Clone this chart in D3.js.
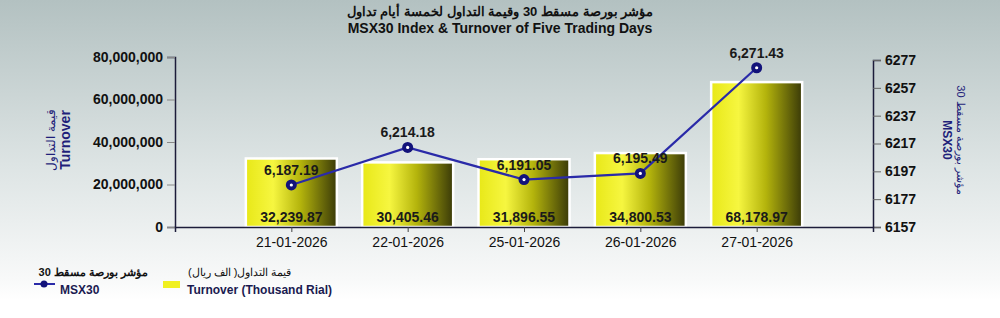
<!DOCTYPE html>
<html>
<head>
<meta charset="utf-8">
<script src="https://cdn.jsdelivr.net/npm/d3@7"></script>
<style>
  body { margin: 0; padding: 0; }
  svg { display: block; }
</style>
</head>
<body>
<div id="chart"></div>
<script>
// chart data
const dates = ["21-01-2026", "22-01-2026", "25-01-2026", "26-01-2026", "27-01-2026"];
const turnover = [32239.87, 30405.46, 31896.55, 34800.53, 68178.97]; // thousand rial
const msx30 = [6187.19, 6214.18, 6191.05, 6195.49, 6271.43];
const leftTicks = [0, 20000000, 40000000, 60000000, 80000000];
const rightTicks = [6157, 6177, 6197, 6217, 6237, 6257, 6277];

const width = 1000, height = 318;
const margin = { top: 57, right: 127, bottom: 91, left: 175 };
const graphW = width - margin.left - margin.right;
const graphH = height - margin.top - margin.bottom;
const font = "'Liberation Sans', Arial, sans-serif";
const navy = "#1f1f7a";

const svg = d3.select("#chart").append("svg")
    .attr("width", width)
    .attr("height", height);

const defs = svg.append("defs");
const bg = defs.append("linearGradient").attr("id", "bg")
    .attr("x1", 0).attr("y1", 0).attr("x2", 0).attr("y2", 1);
bg.append("stop").attr("offset", "0%").attr("stop-color", "#b3c1c1");
bg.append("stop").attr("offset", "55%").attr("stop-color", "#dde4e4");
bg.append("stop").attr("offset", "93%").attr("stop-color", "#f8f9f9");
bg.append("stop").attr("offset", "100%").attr("stop-color", "#ffffff");

const barGrad = defs.append("linearGradient").attr("id", "bar")
    .attr("x1", 0).attr("y1", 0).attr("x2", 1).attr("y2", 0);
barGrad.append("stop").attr("offset", "0%").attr("stop-color", "#e8e818");
barGrad.append("stop").attr("offset", "30%").attr("stop-color", "#f6f640");
barGrad.append("stop").attr("offset", "60%").attr("stop-color", "#b4b40c");
barGrad.append("stop").attr("offset", "100%").attr("stop-color", "#3a3a08");

svg.append("rect").attr("width", width).attr("height", 300).attr("fill", "url(#bg)");

// title
svg.append("text")
    .attr("x", 500).attr("y", 16)
    .attr("text-anchor", "middle")
    .style("font-family", font).style("font-weight", 700).style("font-size", "13px")
    .attr("fill", "#111")
    .text("مؤشر بورصة مسقط 30 وقيمة التداول لخمسة أيام تداول");
svg.append("text")
    .attr("x", 500).attr("y", 33)
    .attr("text-anchor", "middle")
    .style("font-family", font).style("font-weight", 700).style("font-size", "14px")
    .attr("fill", "#111")
    .text("MSX30 Index & Turnover of Five Trading Days");

const group = svg.append("g")
    .attr("transform", `translate(${margin.left}, ${margin.top})`);

// scales
const x = d3.scalePoint().domain(dates).range([0, graphW]).padding(1);
const y = d3.scaleLinear().domain([0, 80000000]).range([graphH, 0]);
const y2 = d3.scaleLinear().domain([6157, 6277]).range([graphH, 3]);
const barWidth = 91;

// bars
const bars = group.append("g").selectAll("g.bar")
    .data(dates.map((d, i) => ({ date: d, value: turnover[i] })))
    .enter().append("g").attr("class", "bar");

bars.append("rect")
    .attr("x", d => x(d.date) - barWidth / 2)
    .attr("y", d => y(d.value * 1000))
    .attr("width", barWidth)
    .attr("height", d => graphH - y(d.value * 1000))
    .attr("fill", "url(#bar)")
    .attr("stroke", "#ffffff")
    .attr("stroke-width", 2.5);

bars.append("text")
    .attr("x", d => x(d.date))
    .attr("y", graphH - 5)
    .attr("text-anchor", "middle")
    .style("font-family", font).style("font-weight", 700).style("font-size", "14px")
    .attr("fill", "#1a1a1a")
    .text(d => d3.format(",.2f")(d.value));

// left axis
const leftAxis = group.append("g")
    .style("font-family", font).style("font-weight", 700).style("font-size", "14px")
    .call(d3.axisLeft(y).tickValues(leftTicks).tickFormat(d3.format(",")).tickSize(8).tickPadding(4));
leftAxis.select(".domain").attr("stroke", "#1c1c3a").attr("stroke-width", 1.5);
leftAxis.selectAll(".tick line").attr("stroke", "#888");
leftAxis.selectAll(".tick text").attr("fill", "#111");

// right axis
const rightAxis = group.append("g")
    .attr("transform", `translate(${graphW}, 0)`)
    .style("font-family", font).style("font-weight", 700).style("font-size", "14px")
    .call(d3.axisRight(y2).tickValues(rightTicks).tickFormat(d3.format("d")).tickSize(8).tickPadding(4));
rightAxis.select(".domain").attr("stroke", "#1c1c3a").attr("stroke-width", 1.5);
rightAxis.selectAll(".tick line").attr("stroke", "#666");
rightAxis.selectAll(".tick text").attr("fill", "#111");

// bottom axis
const xAxis = group.append("g")
    .attr("transform", `translate(0, ${graphH})`)
    .style("font-family", font).style("font-size", "14px")
    .call(d3.axisBottom(x).tickSize(5).tickPadding(5));
xAxis.select(".domain").attr("stroke", "#1c1c3a").attr("stroke-width", 1.5);
xAxis.selectAll(".tick line").attr("stroke", "#444");
xAxis.selectAll(".tick text").attr("fill", "#111");

// index line
const pts = dates.map((d, i) => ({ date: d, value: msx30[i] }));
group.append("path")
    .datum(pts)
    .attr("fill", "none")
    .attr("stroke", "#2a2aa8")
    .attr("stroke-width", 2.2)
    .attr("d", d3.line().x(d => x(d.date)).y(d => y2(d.value)));

group.append("g").selectAll("circle.pt")
    .data(pts).enter().append("circle")
    .attr("cx", d => x(d.date)).attr("cy", d => y2(d.value))
    .attr("r", 5.5).attr("fill", "#12127a");
group.append("g").selectAll("circle.dot")
    .data(pts).enter().append("circle")
    .attr("cx", d => x(d.date)).attr("cy", d => y2(d.value))
    .attr("r", 1.6).attr("fill", "#ffffff");

group.append("g").selectAll("text")
    .data(pts).enter().append("text")
    .attr("x", d => x(d.date))
    .attr("y", d => y2(d.value) - 10)
    .attr("text-anchor", "middle")
    .style("font-family", font).style("font-weight", 700).style("font-size", "14px")
    .attr("fill", "#1a1a1a")
    .text(d => d3.format(",.2f")(d.value));

// axis titles
const lt = svg.append("g").attr("transform", "translate(0, 140) rotate(-90)");
lt.append("text").attr("x", 0).attr("y", 55)
    .attr("text-anchor", "middle")
    .style("font-family", font).style("font-size", "12px").attr("fill", navy)
    .text("قيمة التداول");
lt.append("text").attr("x", 0).attr("y", 70)
    .attr("text-anchor", "middle")
    .style("font-family", font).style("font-weight", 700).style("font-size", "14px").attr("fill", navy)
    .text("Turnover");

const rt = svg.append("g").attr("transform", "translate(0, 140) rotate(90)");
rt.append("text").attr("x", 0).attr("y", -957)
    .attr("text-anchor", "middle")
    .style("font-family", font).style("font-size", "11px").attr("fill", navy)
    .text("مؤشر بورصة مسقط 30");
rt.append("text").attr("x", 0).attr("y", -943)
    .attr("text-anchor", "middle")
    .style("font-family", font).style("font-weight", 700).style("font-size", "12px").attr("fill", navy)
    .text("MSX30");

// legend
const legend = svg.append("g");
legend.append("line").attr("x1", 34).attr("x2", 55).attr("y1", 284).attr("y2", 284)
    .attr("stroke", "#2a2aa8").attr("stroke-width", 2);
legend.append("circle").attr("cx", 44).attr("cy", 284).attr("r", 3.5).attr("fill", "#12127a");
legend.append("text").attr("x", 148).attr("y", 276).attr("text-anchor", "end")
    .style("font-family", font).style("font-weight", 700).style("font-size", "11px").attr("fill", "#111")
    .text("مؤشر بورصة مسقط 30");
legend.append("text").attr("x", 60).attr("y", 294)
    .style("font-family", font).style("font-weight", 700).style("font-size", "12px").attr("fill", "#1a1a50")
    .text("MSX30");

legend.append("rect").attr("x", 163).attr("y", 281).attr("width", 17).attr("height", 7)
    .attr("fill", "#f0f020");
legend.append("text").attr("x", 188).attr("y", 276)
    .style("font-family", font).style("font-size", "11px").attr("fill", "#111")
    .text("قيمة التداول( الف ريال)");
legend.append("text").attr("x", 187).attr("y", 294)
    .style("font-family", font).style("font-weight", 700).style("font-size", "12px").attr("fill", "#1a1a50")
    .text("Turnover (Thousand Rial)");
</script>
</body>
</html>
